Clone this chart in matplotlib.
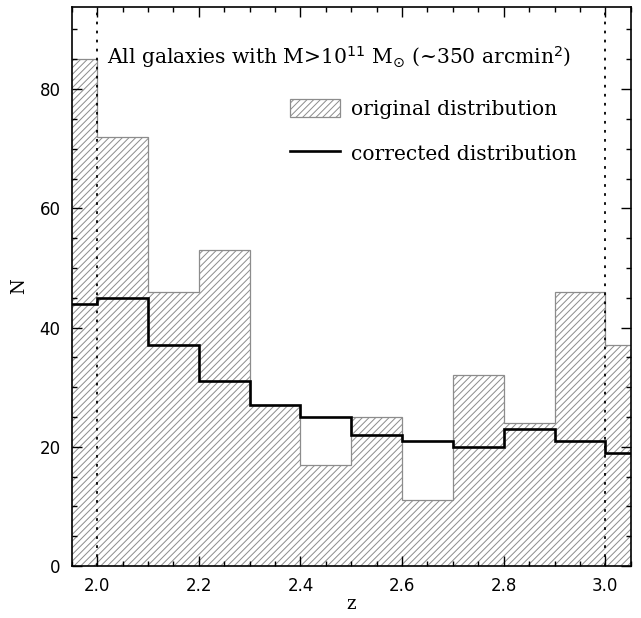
import numpy as np
import matplotlib.pyplot as plt
from matplotlib.patches import Patch
from matplotlib.lines import Line2D
from matplotlib.ticker import MultipleLocator

# redshift bins of width 0.1
edges = np.round(np.arange(1.9, 3.11, 0.1), 2)
original = [85, 72, 46, 53, 27, 17, 25, 11, 32, 24, 46, 37]   # raw counts
corrected = [44, 45, 37, 31, 27, 25, 22, 21, 20, 23, 21, 19]  # completeness-corrected counts
z_limits = [2.0, 3.0]

plt.rcParams['hatch.linewidth'] = 0.7
plt.rcParams['hatch.color'] = '#6e6e6e'

fig = plt.figure(figsize=(6.41, 6.18), dpi=100)
ax = fig.add_axes([0.112, 0.084, 0.872, 0.905])

ax.stairs(original, edges, fill=True, facecolor='none', edgecolor='#8c8c8c',
          hatch='/////', linewidth=0.9)
ax.stairs(corrected, edges, color='black', linewidth=1.9)

for zl in z_limits:
    ax.axvline(zl, color='black', linestyle=(0, (1.5, 3.5)), linewidth=1.3)

ax.set_xlim(1.95, 3.05)
ax.set_ylim(0, 93.8)

ax.xaxis.set_major_locator(MultipleLocator(0.2))
ax.xaxis.set_minor_locator(MultipleLocator(0.05))
ax.yaxis.set_major_locator(MultipleLocator(20))
ax.yaxis.set_minor_locator(MultipleLocator(5))
ax.tick_params(which='both', direction='in', top=True, right=True, width=1.0)
ax.tick_params(which='major', length=7, labelsize=12, pad=8)
ax.tick_params(which='minor', length=3.5)
ax.xaxis.set_major_formatter(plt.FuncFormatter(lambda v, p: f'{v:.1f}'))
ax.yaxis.set_major_formatter(plt.FuncFormatter(lambda v, p: f'{v:.0f}'))
for sp in ax.spines.values():
    sp.set_linewidth(1.2)

serif = 'DejaVu Serif'
ax.set_xlabel('z', fontsize=13, family=serif, labelpad=0)
ax.set_ylabel('N', fontsize=13, family=serif, labelpad=8)

ax.text(0.063, 0.91, r'All galaxies with M>10$^{11}$ M$_{\odot}$ (~350 arcmin$^{2}$)',
        transform=ax.transAxes, fontsize=14.6, family=serif, va='center')

handles = [Patch(facecolor='none', edgecolor='#8c8c8c', hatch='/////', linewidth=0.9),
           Line2D([0], [0], color='black', linewidth=1.9)]
ax.legend(handles, ['original distribution', 'corrected distribution'],
          loc='upper left', bbox_to_anchor=(0.39, 0.836), frameon=False,
          borderpad=0, borderaxespad=0,
          prop={'family': serif, 'size': 14.6}, handlelength=2.5, handleheight=1.05,
          handletextpad=0.5, labelspacing=1.2)

fig.savefig('out.png', dpi=100)
